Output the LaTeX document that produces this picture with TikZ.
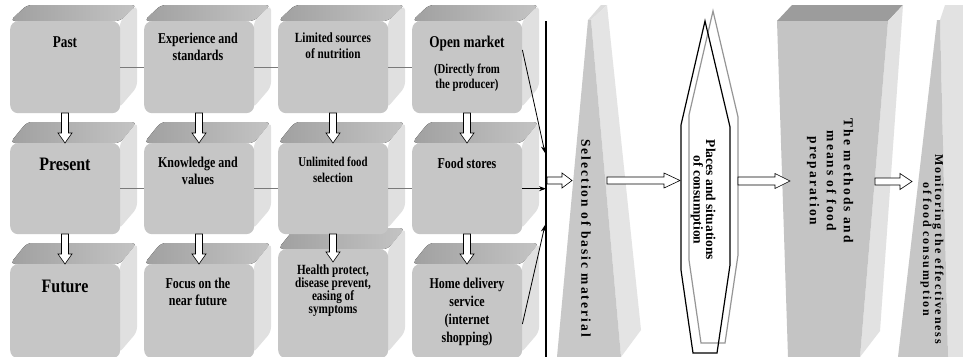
\documentclass[tikz,border=0pt]{standalone}
\usepackage{fontspec}
\setmainfont{Liberation Serif}
\newfontfamily\cnd[FakeStretch=0.8]{Liberation Serif}
\newfontfamily\cndR[FakeStretch=0.84]{Liberation Serif}
\newfontfamily\spcA[LetterSpace=15]{Liberation Serif}
\usetikzlibrary{calc,arrows.meta}
\definecolor{frontc}{HTML}{C6C6C6}
\definecolor{topc}{HTML}{A0A0A0}
\definecolor{topcl}{HTML}{C4C4C4}
\definecolor{sidec}{HTML}{E0E0E0}
\definecolor{linkc}{HTML}{7A7A7A}
\definecolor{seltop}{HTML}{DCDCDC}
\definecolor{selside}{HTML}{E4E4E4}
\definecolor{selfront}{HTML}{C8C8C8}
\definecolor{hexgray}{HTML}{969696}
\definecolor{mettop}{HTML}{9C9C9C}
\definecolor{metside}{HTML}{E2E2E2}
\definecolor{metfront}{HTML}{C4C4C4}
\definecolor{monfront}{HTML}{C6C6C6}
\newcommand\mycube[5]{% name, x, ytop, ybottom, depth
  \fill[left color=topc, middle color=topc, right color=topcl, rounded corners=5pt] (#2,#3) -- (#2+17,#3-#5) -- (#2+127,#3-#5) -- (#2+110,#3) -- cycle;
  \fill[sidec, rounded corners=5pt] (#2+110,#3) -- (#2+127,#3-#5) -- (#2+127,#4-26) -- (#2+109,#4-5) -- cycle;
  \node[front, minimum height={(#4-#3)*1pt}] (#1) at (#2,#3) {};
}
\newcommand\dnarr[3]{\draw[barrow] (#1-3.5,#2) -- (#1+3.5,#2) -- (#1+3.5,#3-10) -- (#1+7,#3-10) -- (#1,#3) -- (#1-7,#3-10) -- (#1-3.5,#3-10) -- cycle;}
\newcommand\rtarr[6]{\draw[barrow] (#1,#3-#4) -- (#2-#6,#3-#4) -- (#2-#6,#3-#5) -- (#2,#3) -- (#2-#6,#3+#5) -- (#2-#6,#3+#4) -- (#1,#3+#4) -- cycle;}
\begin{document}
\begin{tikzpicture}[x=1pt,y=-1pt,
  front/.style={fill=frontc, rounded corners=8pt, inner sep=0pt, draw=none, anchor=north west, minimum width=110pt},
  btxt/.style={font=\cnd\bfseries\fontsize{15}{16.5}\selectfont, align=center, inner sep=0pt, anchor=north},
  bigtxt/.style={font=\cndR\bfseries\fontsize{19}{22}\selectfont, inner sep=0pt, anchor=north},
  link/.style={draw=linkc, line width=1.1pt},
  bararrow/.style={draw=black, line width=0.8pt, -{Stealth[length=7pt,width=5pt]}},
  barrow/.style={draw=black, fill=white, line width=0.6pt},
  vtxt/.style={rotate=-90, inner sep=0pt, align=center}
]
\useasboundingbox (0,0) rectangle (963,356);
\clip (0,0) rectangle (963,356);
\fill[white] (0,0) rectangle (963,356);
% row 3
\mycube{fut}{10}{264}{358}{21}
\mycube{foc}{144}{264}{358}{21}
\mycube{hea}{278}{249}{358}{21}
\mycube{hom}{412}{264}{358}{21}
% row 2
\mycube{pres}{10}{143}{234}{21}
\mycube{know}{144}{143}{234}{21}
\mycube{unl}{278}{143}{234}{21}
\mycube{food}{412}{143}{234}{21}
% row 1
\mycube{past}{10}{21}{113}{16}
\mycube{exp}{144}{21}{113}{16}
\mycube{lim}{278}{21}{113}{16}
\mycube{open}{412}{21}{113}{16}
% texts
\node[btxt, font=\cnd\bfseries\fontsize{16.5}{18}\selectfont] (tpast) at (65,36) {Past};
\node[btxt] (texp) at (198,33) {Experience and\\standards};
\node[btxt, font=\cnd\bfseries\fontsize{14}{16}\selectfont] (tlim) at (333,33) {Limited sources\\of nutrition};
\node[btxt, font=\cnd\bfseries\fontsize{16.5}{18}\selectfont] (topen) at (467,36) {Open market};
\node[btxt, font=\cnd\bfseries\fontsize{13.5}{14.5}\selectfont] (topen2) at (467,64) {(Directly from\\the producer)};
\node[bigtxt] (tpres) at (65,158) {Present};
\node[btxt] (tknow) at (198,157) {Knowledge and\\values};
\node[btxt, font=\cnd\bfseries\fontsize{13.5}{16}\selectfont] (tunl) at (333,157) {Unlimited food\\selection};
\node[btxt] (tfood) at (467,158) {Food stores};
\node[bigtxt] (tfut) at (65,280) {Future};
\node[btxt, font=\cnd\bfseries\fontsize{15}{17}\selectfont] (tfoc) at (198,278) {Focus on the\\near future};
\node[btxt, font=\cnd\bfseries\fontsize{14}{13}\selectfont] (thea) at (333,265) {Health protect,\\disease prevent,\\easing of\\symptoms};
\node[btxt, font=\cnd\bfseries\fontsize{15}{18}\selectfont] (thom) at (467,278) {Home delivery\\service\\(internet\\shopping)};
% links
\draw[link] (past) -- (exp);
\draw[link] (exp) -- (lim);
\draw[link] (lim) -- (open);
\draw[link] (pres) -- (know);
\draw[link] (know) -- (unl);
\draw[link] (unl) -- (food);
% vertical bar
\coordinate (bartop) at (546,21);
\coordinate (barbot) at (546,358);
\draw[black, line width=1.4pt] (bartop) -- (barbot);
\coordinate (a1) at (545,153);
\coordinate (a2) at (545,225);
\draw[bararrow] ($(open.north east)+(0,29)$) -- (a1);
\draw[bararrow] (food.east) -- (food.east -| bartop);
\draw[bararrow] ($(hom.north east)+(0,60)$) -- (a2);
% down arrows
\dnarr{65}{113}{143}
\dnarr{199}{113}{143}
\dnarr{333}{113}{143}
\dnarr{467}{113}{143}
\dnarr{65}{234}{264}
\dnarr{199}{234}{264}
\dnarr{333}{234}{262}
\dnarr{467}{234}{264}
% selection block
\fill[seltop] (588,20) -- (601,5) -- (607,5) -- (591,20) -- cycle;
\fill[selside] (591,20) -- (607,5) -- (641,330) -- (621,357) -- cycle;
\fill[selfront] (588,20) -- (591,20) -- (621,357) -- (557,357) -- cycle;
\node[vtxt, font=\spcA\bfseries\fontsize{13.5}{15}\selectfont] (tsel) at (586,238) {Selection of basic material};
% hexagons
\draw[hexgray, line width=1.2pt] (713,11) -- (738,117) -- (738,255) -- (725,343) -- (701,343) -- (689,260) -- (689,115) -- cycle;
\draw[black, line width=1.2pt] (705,21) -- (730,127) -- (730,265) -- (717,353) -- (693,353) -- (681,270) -- (681,125) -- cycle;
\node[vtxt, font=\bfseries\fontsize{13.5}{12.5}\selectfont] (tpla) at (703,200) {Places and situations\\of consumption};
% methods block
\fill[mettop] (777,21) -- (792,5) -- (903,5) -- (888,21) -- cycle;
\fill[metside] (888,21) -- (903,5) -- (880,331) -- (860,357) -- cycle;
\fill[metfront] (777,21) -- (888,21) -- (860,357) -- (788,357) -- cycle;
\node[vtxt, font=\spcA\bfseries\fontsize{13.5}{17}\selectfont] (tmet) at (830,181) {The methods and\\means of food\\preparation};
% monitoring block
\fill[metside] (940,20) -- (945,5) -- (970,5) -- (970,357) -- (948,357) -- cycle;
\fill[monfront] (937,20) -- (940,20) -- (948,357) -- (898,357) -- cycle;
\node[vtxt, font=\spcA\bfseries\fontsize{12}{11}\selectfont] (tmon) at (932,249) {Monitoring the effectiveness\\of food consumption};
% block arrows
\rtarr{547}{572}{180.5}{3.5}{7.5}{10}
\rtarr{607}{680}{180.5}{3.5}{7.5}{16}
\rtarr{738}{790}{181}{4}{7.5}{15}
\rtarr{875}{912}{181.5}{3.5}{8}{12}
\end{tikzpicture}
\end{document}
